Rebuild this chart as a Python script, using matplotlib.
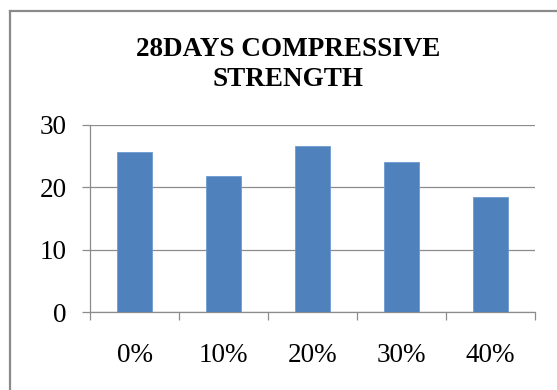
import matplotlib
matplotlib.use("Agg")
import matplotlib.pyplot as plt
from matplotlib.lines import Line2D

categories = ["0%", "10%", "20%", "30%", "40%"]
strength = [25.6, 21.8, 26.6, 24.1, 18.4]
y_ticks = [0, 10, 20, 30]

W, H, DPI = 557, 390, 100
fig = plt.figure(figsize=(W / DPI, H / DPI), dpi=DPI)
fig.patch.set_facecolor("white")

serif = ["Liberation Serif", "DejaVu Serif"]
grey = "#8c8c8c"

# chart frame (only left and top edges fall inside the image)
fig.add_artist(Line2D([9.5 / W, 9.5 / W], [0, 1 - 10.5 / H], transform=fig.transFigure,
                      color="#8a8a8a", lw=1.6))
fig.add_artist(Line2D([9.5 / W, 1], [1 - 10.5 / H, 1 - 10.5 / H], transform=fig.transFigure,
                      color="#8a8a8a", lw=1.6))

ax = fig.add_axes([90 / W, 1 - 312.3 / H, (535 - 90) / W, (312.3 - 125) / H])
x = range(len(categories))
ax.bar(x, strength, width=0.4, color="#4F81BD", edgecolor="#6f9ad0", linewidth=0.6, zorder=3)

ax.set_xlim(-0.5, len(categories) - 0.5)
ax.set_ylim(0, 30)
ax.set_yticks(y_ticks)
ax.set_yticklabels([str(v) for v in y_ticks], family=serif, fontsize=19.5)
ax.set_xticks(list(x))
ax.set_xticklabels(categories, family=serif, fontsize=19.5)
ax.set_xticks([i + 0.5 for i in range(-1, len(categories))], minor=True)

ax.yaxis.grid(True, color=grey, lw=0.9, zorder=0)
ax.tick_params(axis="y", length=6, width=0.9, color=grey, pad=11)
ax.tick_params(axis="x", which="major", length=0, pad=22)
ax.tick_params(axis="x", which="minor", length=6, width=0.9, color=grey)

for side in ("top", "right"):
    ax.spines[side].set_visible(False)
for side in ("left", "bottom"):
    ax.spines[side].set_color(grey)
    ax.spines[side].set_linewidth(0.9)

fig.text(288 / W, 1 - 37 / H, "28DAYS COMPRESSIVE\nSTRENGTH", ha="center", va="top",
         family=serif, fontweight="bold", fontsize=19.5, linespacing=1.25)

fig.savefig("out.png", dpi=DPI, facecolor="white")
